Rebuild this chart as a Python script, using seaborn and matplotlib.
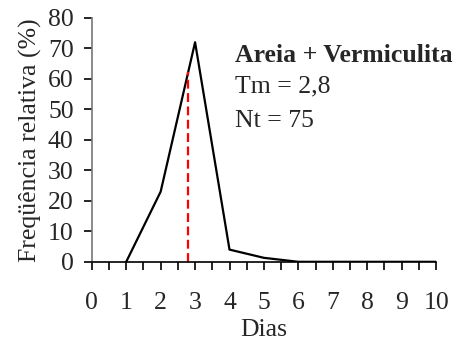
import numpy as np
import pandas as pd
import matplotlib
matplotlib.use("Agg")
import matplotlib.pyplot as plt
import seaborn as sns
from matplotlib.ticker import MultipleLocator

# Germination frequency per day
dias = [1, 2, 3, 4, 5, 6, 7, 8, 9, 10]
freq = [0, 23, 72, 4, 1.3, 0, 0, 0, 0, 0]
tempo_medio = 2.8
titulo = "Areia + Vermiculita"
rotulo_tm = "Tm = 2,8"
rotulo_nt = "Nt = 75"

sns.set_theme(style="ticks")
plt.rcParams["font.family"] = ["Liberation Serif", "DejaVu Serif"]

fs = 18.5
fig = plt.figure(figsize=(4.59, 3.5), dpi=100)
ax = fig.add_axes([0.2, 0.252, 0.75, 0.697])

df = pd.DataFrame({"Dias": dias, "Freq": freq})
sns.lineplot(data=df, x="Dias", y="Freq", color="black", linewidth=1.6, ax=ax)

# Mean germination time marker
y_tm = np.interp(tempo_medio, dias, freq)
ax.plot([tempo_medio, tempo_medio], [0, y_tm], color="red", linestyle=(0, (4, 2)),
        linewidth=1.6)

ax.set_xlim(0, 10)
ax.set_ylim(0, 80)
ax.xaxis.set_major_locator(MultipleLocator(1))
ax.xaxis.set_minor_locator(MultipleLocator(0.5))
ax.yaxis.set_major_locator(MultipleLocator(10))

ax.tick_params(axis="x", which="both", direction="out", length=6, width=1.2,
               color="black", labelsize=fs, pad=16)
ax.tick_params(axis="y", which="major", direction="out", length=6, width=1.2,
               color="black", labelsize=fs, pad=7)

for s in ["top", "right"]:
    ax.spines[s].set_visible(False)
ax.spines["left"].set_color("#777777")
ax.spines["left"].set_linewidth(1.2)
ax.spines["bottom"].set_color("black")
ax.spines["bottom"].set_linewidth(1.2)

ax.set_xlabel("Dias", fontsize=fs, labelpad=3)
ax.set_ylabel("Freqüência relativa (%)", fontsize=fs, labelpad=4)

ax.text(4.17, 65.4, titulo, fontsize=fs, fontweight="bold", va="baseline", ha="left")
ax.text(4.17, 55.5, rotulo_tm, fontsize=fs, va="baseline", ha="left")
ax.text(4.17, 44.3, rotulo_nt, fontsize=fs, va="baseline", ha="left")

fig.savefig("out.png", dpi=100)
